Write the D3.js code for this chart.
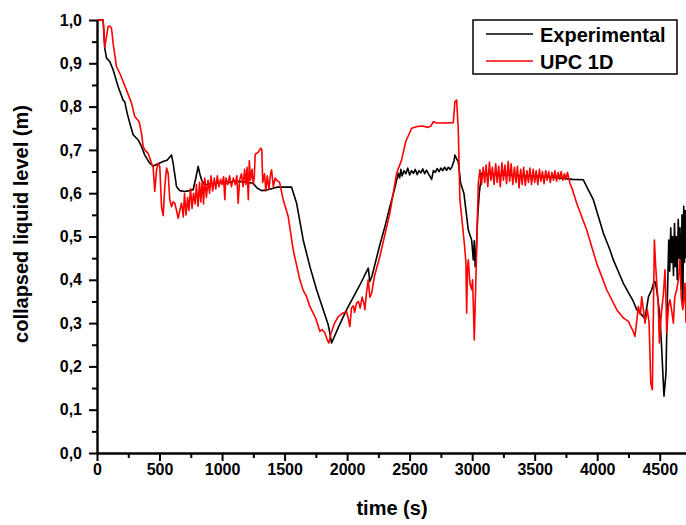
<!DOCTYPE html>
<html>
<head>
<meta charset="utf-8">
<script src="https://cdn.jsdelivr.net/npm/d3@7"></script>
<style>
  html, body { margin: 0; padding: 0; background: #fff; }
  svg { display: block; font-family: "Liberation Sans", Arial, sans-serif; }
</style>
</head>
<body>
<svg id="chart" width="686" height="525"></svg>
<script>
// ---- Data ----
const xTicks = [0, 500, 1000, 1500, 2000, 2500, 3000, 3500, 4000, 4500];
const yTicks = [0, 0.1, 0.2, 0.3, 0.4, 0.5, 0.6, 0.7, 0.8, 0.9, 1.0];
const seriesNames = ["Experimental", "UPC 1D"];
const seriesColors = ["#000000", "#ff0000"];

const expTime = [0,49,62,76,102,129,169,209,222,241,262,289,329,356,382,422,449,490,529,560,596,609,636,662,700,740,769,790,809,822,836,862,900,956,1000,1050,1100,1142,1200,1249,1280,1316,1350,1382,1436,1500,1556,1596,1649,1702,1756,1809,1849,1862,1876,1930,1996,2050,2102,2169,2182,2200,2262,2300,2342,2380,2409,2420,2430,2440,2455,2470,2485,2500,2515,2530,2545,2560,2575,2590,2605,2620,2635,2650,2676,2690,2705,2720,2735,2750,2765,2780,2795,2810,2825,2840,2855,2862,2875,2889,2908,2934,2950,2969,2996,3009,3017,3024,3030,3044,3057,3076,3100,3200,3300,3400,3500,3600,3700,3800,3889,3942,3969,4049,4102,4129,4209,4289,4316,4369,4382,4410,4436,4450,4462,4476,4489,4502,4516,4534,4550,4561,4572,4580,4588,4595,4602,4610,4618,4625,4632,4640,4648,4655,4662,4670,4678,4685,4692,4698,4705,4710];
const expLevel = [1.0,1.0,0.935,0.912,0.904,0.885,0.846,0.815,0.811,0.785,0.762,0.735,0.723,0.708,0.688,0.669,0.663,0.668,0.673,0.676,0.688,0.669,0.615,0.606,0.604,0.606,0.608,0.635,0.662,0.645,0.631,0.619,0.622,0.623,0.626,0.624,0.628,0.627,0.625,0.623,0.612,0.606,0.607,0.609,0.614,0.614,0.614,0.577,0.492,0.431,0.377,0.331,0.296,0.277,0.254,0.29,0.331,0.36,0.388,0.427,0.396,0.41,0.481,0.52,0.569,0.61,0.646,0.635,0.655,0.64,0.652,0.645,0.658,0.642,0.652,0.646,0.655,0.643,0.652,0.647,0.656,0.645,0.653,0.645,0.632,0.652,0.648,0.657,0.65,0.658,0.652,0.66,0.653,0.66,0.655,0.662,0.675,0.688,0.68,0.673,0.623,0.60,0.561,0.515,0.492,0.446,0.49,0.43,0.446,0.546,0.60,0.646,0.645,0.643,0.642,0.64,0.64,0.638,0.635,0.632,0.631,0.6,0.585,0.508,0.469,0.446,0.392,0.35,0.331,0.315,0.311,0.361,0.377,0.392,0.396,0.377,0.346,0.315,0.238,0.131,0.185,0.354,0.492,0.42,0.52,0.44,0.50,0.41,0.53,0.43,0.50,0.40,0.54,0.45,0.52,0.38,0.55,0.35,0.57,0.44,0.56,0.45];

const upcTime = [0,49,62,75,89,102,116,129,156,182,209,236,276,302,337,356,369,382,409,436,449,462,476,489,502,516,529,542,556,569,582,596,609,622,636,649,662,676,690,700,712,725,735,748,760,772,785,795,808,820,830,842,852,862,875,888,900,912,925,938,950,962,975,988,1000,1012,1022,1030,1045,1060,1075,1090,1105,1118,1129,1140,1155,1168,1180,1190,1200,1210,1218,1228,1240,1250,1258,1265,1290,1310,1318,1325,1340,1350,1362,1375,1388,1396,1410,1425,1436,1460,1489,1529,1569,1622,1650,1676,1700,1729,1750,1782,1800,1822,1840,1854,1870,1900,1929,1960,1996,2010,2022,2035,2050,2060,2076,2090,2105,2120,2135,2142,2155,2169,2182,2196,2220,2262,2342,2396,2436,2470,2516,2560,2600,2649,2670,2689,2716,2780,2849,2862,2876,2889,2902,2929,2942,2950,2956,2962,2969,2982,2996,3003,3009,3017,3036,3049,3062,3075,3088,3100,3112,3125,3138,3150,3162,3175,3188,3200,3212,3225,3238,3250,3262,3275,3288,3300,3312,3325,3338,3350,3362,3375,3388,3400,3412,3425,3438,3450,3462,3475,3488,3500,3512,3525,3538,3550,3562,3575,3588,3600,3612,3625,3638,3650,3662,3675,3688,3700,3712,3725,3738,3750,3762,3782,3800,3836,3916,3996,4076,4156,4209,4249,4289,4302,4329,4345,4356,4370,4382,4401,4415,4428,4441,4448,4457,4466,4476,4487,4497,4507,4516,4530,4542,4550,4556,4570,4582,4595,4609,4620,4636,4649,4662,4672,4684,4695,4702,4710];
const upcLevel = [1.0,1.0,0.938,0.96,0.985,0.986,0.981,0.946,0.892,0.877,0.858,0.838,0.808,0.777,0.765,0.738,0.708,0.70,0.692,0.669,0.66,0.604,0.654,0.669,0.662,0.569,0.548,0.615,0.658,0.646,0.585,0.569,0.58,0.577,0.56,0.542,0.56,0.577,0.545,0.60,0.55,0.59,0.56,0.61,0.565,0.60,0.575,0.62,0.57,0.625,0.58,0.63,0.575,0.635,0.59,0.63,0.60,0.64,0.605,0.635,0.61,0.64,0.615,0.632,0.62,0.638,0.585,0.635,0.62,0.64,0.615,0.635,0.62,0.64,0.577,0.63,0.645,0.615,0.655,0.62,0.66,0.585,0.675,0.63,0.655,0.62,0.64,0.69,0.695,0.704,0.70,0.625,0.645,0.605,0.64,0.61,0.645,0.654,0.615,0.635,0.63,0.625,0.585,0.546,0.469,0.40,0.375,0.361,0.34,0.323,0.31,0.281,0.285,0.277,0.262,0.254,0.275,0.30,0.315,0.322,0.327,0.31,0.292,0.335,0.34,0.325,0.346,0.35,0.335,0.36,0.345,0.331,0.37,0.40,0.36,0.369,0.41,0.454,0.554,0.646,0.677,0.72,0.75,0.754,0.755,0.752,0.755,0.765,0.762,0.762,0.763,0.811,0.815,0.746,0.585,0.508,0.47,0.44,0.323,0.42,0.446,0.392,0.377,0.40,0.346,0.261,0.47,0.623,0.654,0.62,0.66,0.625,0.665,0.615,0.672,0.63,0.66,0.62,0.668,0.625,0.662,0.615,0.67,0.63,0.665,0.622,0.673,0.628,0.668,0.62,0.66,0.625,0.662,0.612,0.655,0.62,0.66,0.618,0.652,0.625,0.658,0.62,0.655,0.625,0.652,0.62,0.655,0.628,0.65,0.622,0.652,0.63,0.65,0.625,0.648,0.63,0.652,0.628,0.648,0.632,0.65,0.63,0.645,0.632,0.648,0.623,0.61,0.577,0.515,0.438,0.377,0.331,0.312,0.304,0.28,0.269,0.338,0.32,0.361,0.33,0.30,0.331,0.30,0.162,0.146,0.30,0.492,0.44,0.392,0.35,0.254,0.30,0.331,0.37,0.423,0.35,0.277,0.34,0.354,0.33,0.30,0.36,0.377,0.40,0.446,0.36,0.331,0.36,0.392,0.30];

// ---- Chart ----
const svg = d3.select("#chart");
const x = d3.scaleLinear().domain([0, 4710]).range([97, 686]);
const y = d3.scaleLinear().domain([0, 1]).range([453, 20]);

const fmt = d => d.toFixed(1).replace(".", ",");

// minor ticks
const xMinor = d3.range(250, 4710, 500);
const yMinor = d3.range(0.05, 1, 0.1);

svg.append("g").attr("transform", "translate(0,453)")
  .call(d3.axisBottom(x).tickValues(xMinor).tickSize(5).tickFormat(""))
  .call(g => g.select(".domain").remove())
  .call(g => g.selectAll("line").attr("stroke-width", 2));
svg.append("g").attr("transform", "translate(97,0)")
  .call(d3.axisLeft(y).tickValues(yMinor).tickSize(5).tickFormat(""))
  .call(g => g.select(".domain").remove())
  .call(g => g.selectAll("line").attr("stroke-width", 2));

const line = d3.line().x(d => x(d[0])).y(d => y(d[1]));
const expData = expTime.map((t, i) => [t, expLevel[i]]);
const upcData = upcTime.map((t, i) => [t, upcLevel[i]]);

svg.append("path").datum(expData).attr("d", line)
  .attr("fill", "none").attr("stroke", seriesColors[0]).attr("stroke-width", 1.6).attr("stroke-linejoin", "round");
svg.append("path").datum(upcData).attr("d", line)
  .attr("fill", "none").attr("stroke", seriesColors[1]).attr("stroke-width", 1.6).attr("stroke-linejoin", "round");

// major axes
const xAxis = svg.append("g").attr("transform", "translate(0,453)")
  .call(d3.axisBottom(x).tickValues(xTicks).tickSize(8).tickPadding(3).tickSizeOuter(0).tickFormat(d3.format("d")));
const yAxis = svg.append("g").attr("transform", "translate(97,0)")
  .call(d3.axisLeft(y).tickValues(yTicks).tickSize(8).tickPadding(7).tickSizeOuter(0).tickFormat(fmt));
[xAxis, yAxis].forEach(g => {
  g.select(".domain").attr("stroke-width", 2.4);
  g.selectAll(".tick line").attr("stroke-width", 2);
  g.selectAll(".tick text").attr("font-size", 16).attr("font-weight", "bold").attr("fill", "#000")
    .attr("font-family", "'Liberation Sans', Arial, sans-serif");
});

// axis titles
svg.append("text").attr("x", 392).attr("y", 515).attr("text-anchor", "middle")
  .attr("font-size", 20).attr("font-weight", "bold").text("time (s)");
svg.append("text").attr("transform", "translate(28,224) rotate(-90)").attr("text-anchor", "middle")
  .attr("font-size", 20).attr("font-weight", "bold").text("collapsed liquid level (m)");

// legend
const lg = svg.append("g");
lg.append("rect").attr("x", 473).attr("y", 20).attr("width", 204).attr("height", 54)
  .attr("fill", "#fff").attr("stroke", "#000").attr("stroke-width", 1.5);
seriesNames.forEach((name, i) => {
  const yy = 34 + i * 27;
  lg.append("line").attr("x1", 486).attr("x2", 533).attr("y1", yy).attr("y2", yy)
    .attr("stroke", seriesColors[i]).attr("stroke-width", 1.6);
  lg.append("text").attr("x", 540).attr("y", yy + 8).attr("font-size", 20).attr("font-weight", "bold")
    .text(name);
});
</script>
</body>
</html>
